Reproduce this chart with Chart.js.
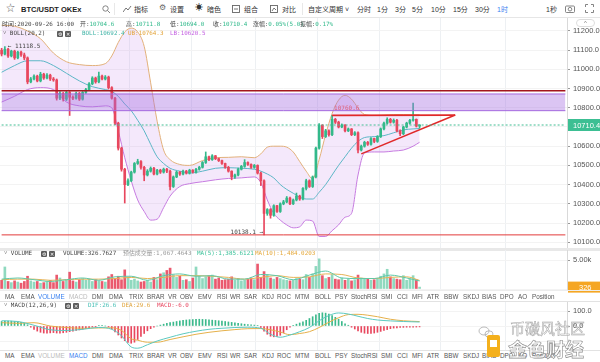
<!DOCTYPE html>
<html>
<head>
<meta charset="utf-8">
<title>BTC/USDT OKEx 1H</title>
<script src="https://cdn.jsdelivr.net/npm/chart.js@4.4.1/dist/chart.umd.min.js"></script>
<style>
  body { margin:0; width:600px; height:362px; overflow:hidden; background:#fff; position:relative;
         font-family: Arial, "Liberation Sans", "Noto Sans CJK SC", sans-serif; color:#333; }
  canvas { position:absolute; left:0; }
  .t { position:absolute; white-space:nowrap; line-height:1; }
  .mono { font-family:"DejaVu Sans Mono", "Noto Sans CJK SC", monospace; font-size:5.9px; color:#444; }
  .g { color:#2fb98a; }
  .bar { font-size:7px; color:#333; top:6px; }
  .ico { display:inline-block; width:6px; height:6px; background:#5c5c5c; color:#fff; font-size:5px;
         line-height:6px; text-align:center; border-radius:1px; vertical-align:top; margin-right:2px; }
  .tabs span { position:absolute; font-size:6.3px; color:#555; white-space:nowrap; line-height:1; }
  .line { position:absolute; left:0; width:600px; }
</style>
</head>
<body>

<!-- toolbar -->
<div class="line" style="top:17px;height:1px;background:#e6e6e6"></div>
<span class="t" style="left:6px;top:4px;font-size:9px;color:#666">☆</span>
<span class="t" style="left:21px;top:5.5px;font-size:7.5px;font-weight:bold;color:#222">BTC/USDT OKEx</span>
<svg class="t" style="left:102px;top:5px" width="9" height="9"><circle cx="3.5" cy="3.5" r="2.7" fill="none" stroke="#777" stroke-width="0.9"/><line x1="5.5" y1="5.5" x2="8" y2="8" stroke="#777" stroke-width="0.9"/></svg>
<div class="t" style="left:114px;top:3px;width:1px;height:12px;background:#e8e8e8"></div>
<svg class="t" style="left:123px;top:5px" width="9" height="8"><polyline points="0,7 3,3 5,5 8,1" fill="none" stroke="#666" stroke-width="0.9"/></svg>
<span class="t bar" style="left:134px">指标</span>
<span class="t" style="left:159px;top:4px;font-size:8px;color:#666">⚙</span>
<span class="t bar" style="left:170px">设置</span>
<span class="t" style="left:195px;top:4px;font-size:8px;color:#333">☀</span>
<span class="t bar" style="left:207px">暗色</span>
<svg class="t" style="left:232px;top:5px" width="8" height="8"><rect x="0.5" y="0.5" width="7" height="7" fill="none" stroke="#666" stroke-width="0.9"/><line x1="2" y1="4" x2="6" y2="4" stroke="#666" stroke-width="0.9"/></svg>
<span class="t bar" style="left:244px">组合</span>
<svg class="t" style="left:270px;top:5px" width="8" height="8"><rect x="0.5" y="0.5" width="7" height="7" fill="none" stroke="#666" stroke-width="0.9"/><polyline points="2,6 4,3 6,5" fill="none" stroke="#666" stroke-width="0.9"/></svg>
<span class="t bar" style="left:282px">对比</span>
<div class="t" style="left:302px;top:3px;width:1px;height:12px;background:#e8e8e8"></div>
<span class="t bar" style="left:308px">自定义周期 ˅</span>
<span class="t bar" style="left:357px">分时</span>
<span class="t bar" style="left:377px">1分</span>
<span class="t bar" style="left:395px">3分</span>
<span class="t bar" style="left:412px">5分</span>
<span class="t bar" style="left:431px">10分</span>
<span class="t bar" style="left:453px">15分</span>
<span class="t bar" style="left:475px">30分</span>
<span class="t bar" style="left:497px;color:#3b82f0">1时</span>
<span class="t bar" style="left:546px">1秒</span>
<svg class="t" style="left:565px;top:4px" width="10" height="9"><rect x="0.5" y="2" width="9" height="6.5" rx="1" fill="none" stroke="#777" stroke-width="0.9"/><circle cx="5" cy="5.2" r="1.8" fill="none" stroke="#777" stroke-width="0.9"/></svg>
<svg class="t" style="left:585px;top:4px" width="9" height="9"><path d="M0.5 3V0.5H3M6 0.5H8.5V3M8.5 6V8.5H6M3 8.5H0.5V6" fill="none" stroke="#777" stroke-width="0.9"/></svg>

<!-- charts -->
<canvas id="main" width="600" height="230" style="top:18px"></canvas>
<div class="line" style="top:248px;height:3px;background:#e8e8e8"></div>
<canvas id="vol" width="600" height="44" style="top:250px"></canvas>
<canvas id="macd" width="600" height="48" style="top:302px"></canvas>

<!-- main legends -->
<span class="t mono" style="left:2px;top:22px">时间:2020-09-26 16:00</span>
<span class="t mono" style="left:80px;top:22px">开:<span class="g">10704.6</span></span>
<span class="t mono" style="left:126px;top:22px">高:<span class="g">10711.8</span></span>
<span class="t mono" style="left:170px;top:22px">低:<span class="g">10694.0</span></span>
<span class="t mono" style="left:213px;top:22px">收:<span class="g">10710.4</span></span>
<span class="t mono" style="left:253px;top:22px">涨幅:<span class="g">0.05%(5.0)</span></span>
<span class="t mono" style="left:300px;top:22px">振幅:<span class="g">0.17%</span></span>
<span class="t mono" style="left:3px;top:31px">˅ BOLL(20,2)</span>
<span class="t" style="left:57px;top:31px"><span class="ico">⚙</span><span class="ico">✕</span></span>
<span class="t mono" style="left:82px;top:31px;color:#3fb3a6">BOLL:10692.4</span>
<span class="t mono" style="left:128px;top:31px;color:#e3a43a">UB:10764.3</span>
<span class="t mono" style="left:170px;top:31px;color:#c35fe0">LB:10620.5</span>
<div class="t" style="left:576px;top:19px;width:17px;height:6px;border:1px solid #ddd;border-radius:4px;font-size:6px;color:#777;text-align:center;line-height:7px">^</div>

<!-- volume legend -->
<span class="t mono" style="left:4px;top:251px">˅ VOLUME</span>
<span class="t" style="left:41px;top:251px"><span class="ico">⚙</span><span class="ico">✕</span></span>
<span class="t mono" style="left:63px;top:251px">VOLUME:326.7627</span>
<span class="t mono" style="left:123px;top:251px;color:#999">预估成交量:1,067.4643</span>
<span class="t mono" style="left:197px;top:251px;color:#3cc29a">MA(5):1,385.6121</span>
<span class="t mono" style="left:255px;top:251px;color:#e5a83a">MA(10):1,484.0203</span>

<!-- indicator tabs -->
<div class="line" style="top:290px;height:1px;background:#ececec"></div>
<div class="tabs" id="tabs1" style="position:absolute;left:0;top:294px"></div>
<div class="line" style="top:301px;height:1px;background:#e2e2e2"></div>

<!-- macd legend -->
<span class="t mono" style="left:4px;top:303px">˅ MACD(12,26,9)</span>
<span class="t" style="left:65px;top:303px"><span class="ico">⚙</span><span class="ico">✕</span></span>
<span class="t mono" style="left:88px;top:303px;color:#46bfb5">DIF:26.6</span>
<span class="t mono" style="left:122px;top:303px;color:#e0a43c">DEA:29.6</span>
<span class="t mono" style="left:157px;top:303px;color:#e8455e">MACD:-6.0</span>

<div class="line" style="top:350px;height:1px;background:#e2e2e2"></div>
<div class="tabs" id="tabs2" style="position:absolute;left:0;top:353px"></div>

<!-- watermark -->
<svg class="t" style="left:478px;top:326px" width="16" height="12"><ellipse cx="6" cy="5" rx="5" ry="4" fill="none" stroke="#aaa" stroke-width="0.8"/><ellipse cx="11" cy="8" rx="4" ry="3.2" fill="none" stroke="#aaa" stroke-width="0.8"/></svg>
<span class="t" style="left:510px;top:320px;font-size:15px;color:rgba(255,255,255,0.6);-webkit-text-stroke:0.5px #a0a0a0;font-family:'Noto Sans CJK SC'">币碳风社区</span>
<div class="t" style="left:487px;top:335px;width:13px;height:22px;background:#f4b01c;border-radius:2px"></div>
<div class="t" style="left:490px;top:340px;width:7px;height:7px;background:#fff"></div>
<span class="t" style="left:508px;top:339px;font-size:19px;font-weight:bold;color:rgba(255,255,255,0.8);-webkit-text-stroke:0.6px #8a8a8a;font-family:'Noto Sans CJK SC'">金色财经</span>

<script>
// hourly slots across the plot width; candles fill the first 130, the rest is empty space
const slotCount = 175;
const slots = Array.from({length: slotCount}, (_, i) => i);

const opens = [
  11100, 11080, 11105, 11070, 11095, 11060, 11090, 11075, 11060, 10935,
  10950, 10965, 10940, 10975, 10955, 10970, 10950, 10945, 10850, 10875,
  10845, 10880, 10855, 10850, 10875, 10845, 10880, 10895, 10925, 10955,
  10935, 10965, 10950, 10960, 10905, 10850, 10720, 10590, 10480, 10400,
  10420, 10465, 10510, 10520, 10490, 10450, 10470, 10485, 10455, 10475,
  10465, 10480, 10470, 10390, 10440, 10465, 10455, 10470, 10460, 10475,
  10465, 10480, 10490, 10515, 10545, 10530, 10550, 10535, 10525, 10510,
  10490, 10470, 10440, 10450, 10480, 10495, 10515, 10505, 10490, 10500,
  10460, 10420, 10250, 10270, 10240, 10290, 10260, 10300, 10310, 10330,
  10300, 10320, 10340, 10325, 10380, 10420, 10390, 10440, 10590, 10710,
  10650, 10680, 10660, 10740, 10725, 10700, 10710, 10680, 10690, 10660,
  10670, 10580, 10600, 10620, 10610, 10640, 10625, 10650, 10690, 10720,
  10740, 10725, 10735, 10680, 10665, 10700, 10720, 10735, 10740, 10704.6
];
const highs = [
  11110, 11118.5, 11110, 11100, 11100, 11095, 11095, 11085, 11065, 10958,
  10972, 10970, 10985, 10980, 10978, 10975, 10958, 10950, 10885, 10880,
  10888, 10885, 10862, 10882, 10880, 10885, 10902, 10932, 10962, 10960,
  10986, 10970, 10968, 10965, 10910, 10855, 10725, 10595, 10485, 10430,
  10470, 10515, 10532, 10525, 10495, 10478, 10492, 10490, 10480, 10480,
  10486, 10485, 10475, 10445, 10470, 10468, 10475, 10474, 10480, 10478,
  10485, 10495, 10520, 10570, 10548, 10556, 10552, 10538, 10528, 10512,
  10495, 10472, 10455, 10486, 10500, 10530, 10518, 10508, 10505, 10503,
  10465, 10425, 10275, 10275, 10295, 10292, 10305, 10318, 10338, 10335,
  10325, 10356, 10345, 10385, 10428, 10425, 10445, 10595, 10718, 10712,
  10688, 10685, 10760.6, 10745, 10730, 10716, 10712, 10695, 10692, 10676,
  10675, 10606, 10626, 10625, 10645, 10642, 10655, 10695, 10725, 10748,
  10745, 10742, 10740, 10685, 10704, 10725, 10740, 10825, 10742, 10711.8
];
const lows = [
  11070, 11075, 11062, 11065, 11052, 11055, 11068, 11050, 10925, 10930,
  10945, 10935, 10935, 10948, 10950, 10942, 10938, 10840, 10842, 10835,
  10838, 10760, 10842, 10845, 10838, 10840, 10875, 10890, 10920, 10928,
  10930, 10945, 10945, 10898, 10845, 10712, 10580, 10470, 10304, 10395,
  10415, 10460, 10505, 10480, 10420, 10445, 10465, 10450, 10450, 10458,
  10460, 10462, 10372, 10385, 10436, 10448, 10450, 10455, 10455, 10460,
  10460, 10475, 10486, 10510, 10525, 10526, 10530, 10520, 10505, 10485,
  10465, 10425, 10432, 10445, 10476, 10490, 10500, 10484, 10485, 10455,
  10395, 10138.1, 10240, 10225, 10235, 10255, 10255, 10295, 10305, 10295,
  10296, 10315, 10318, 10320, 10372, 10385, 10385, 10435, 10585, 10640,
  10645, 10652, 10655, 10718, 10695, 10696, 10675, 10676, 10655, 10655,
  10565, 10575, 10595, 10604, 10605, 10618, 10620, 10645, 10685, 10715,
  10720, 10720, 10675, 10655, 10660, 10695, 10715, 10730, 10700, 10694.0
];
const closes = [
  11080, 11105, 11070, 11095, 11060, 11090, 11075, 11060, 10935, 10950,
  10965, 10940, 10975, 10955, 10970, 10950, 10945, 10850, 10875, 10845,
  10880, 10855, 10850, 10875, 10845, 10880, 10895, 10925, 10955, 10935,
  10965, 10950, 10960, 10905, 10850, 10720, 10590, 10480, 10400, 10420,
  10465, 10510, 10520, 10490, 10450, 10470, 10485, 10455, 10475, 10465,
  10480, 10470, 10390, 10440, 10465, 10455, 10470, 10460, 10475, 10465,
  10480, 10490, 10515, 10545, 10530, 10550, 10535, 10525, 10510, 10490,
  10470, 10440, 10450, 10480, 10495, 10515, 10505, 10490, 10500, 10460,
  10420, 10250, 10270, 10240, 10290, 10260, 10300, 10310, 10330, 10300,
  10320, 10340, 10325, 10380, 10420, 10390, 10440, 10590, 10710, 10650,
  10680, 10660, 10740, 10725, 10700, 10710, 10680, 10690, 10660, 10670,
  10580, 10600, 10620, 10610, 10640, 10625, 10650, 10690, 10720, 10740,
  10725, 10735, 10680, 10665, 10700, 10720, 10735, 10740, 10704.6, 10710.4
];
const volumes = [
  1500, 3800, 1300, 1100, 1400, 1200, 1000, 1300, 2200, 1400,
  1200, 1300, 1000, 1100, 1300, 1500, 1100, 2400, 1900, 1300,
  1500, 2900, 1400, 1200, 1600, 1800, 1500, 1700, 1300, 1600,
  1400, 1300, 1200, 2100, 2500, 1800, 2200, 1600, 3300, 2000,
  1500, 1700, 1400, 1200, 1300, 1500, 1200, 2000, 1600, 2600,
  2800, 3200, 3600, 2400, 2000, 2200, 1500, 1600, 1300, 1900,
  3800, 2200, 1800, 2100, 2300, 2400, 1700, 1900, 1500, 1600,
  1700, 2100, 1500, 1800, 1400, 1500, 1700, 1900, 1600, 4300,
  2000, 3000, 2500, 1900, 1700, 2000, 1800, 1600, 1500, 1400,
  1500, 1800, 1700, 1600, 2500, 2000, 2600, 3900, 5200, 2300,
  1800, 2000, 2500, 1700, 1600, 1900, 1500, 1700, 1400, 1600,
  2400, 1900, 1700, 1800, 1500, 1600, 1700, 2200, 2600, 3400,
  2100, 1800, 1700, 1600, 2300, 1500, 1800, 2300, 1600, 326.76
];
const macdHist = [
  30, 32, 33, 32, 30, 28, 24, 18, 8,
  -8, -22, -34, -42, -47, -48, -46, -44, -47, -48, -45, -42,
  -38, -34, -30, -26, -22, -17, -12, -7, -2, 3, 4, 0, -6,
  -20, -40, -60, -80, -98, -110, -115, -108, -90, -70,
  -50, -32, -18, -8, 0, 6, 12,
  18, 22, 26, 30, 34, 37, 40, 42, 43, 44, 45, 44, 43, 41, 39, 37, 35, 32, 30, 27, 24, 21, 18, 15, 12, 10, 8, 6,
  3, -10, -35, -55, -68, -72, -70, -62, -45, -25, -8, 4, 12, 20,
  28, 38, 50, 62, 75, 85, 88, 86, 80, 70, 58, 45, 30, 15,
  5, -8, -20, -32, -42,
  -48, -50, -50, -47, -42, -36, -30, -24, -18, -14,
  -12, -10, -9, -8, -8, -7, -7, -6
];

// Bollinger band readings at sampled candles
const bollIdx = [0, 4, 8, 12, 16, 20, 24, 28, 32, 34, 36, 38, 40, 42, 44, 46, 48, 50, 52, 55,
  58, 62, 66, 70, 74, 78, 80, 82, 84, 86, 88, 90, 92, 94, 96, 98, 100, 102, 104, 106,
  108, 110, 112, 115, 118, 121, 124, 127, 129];
const bollUpper = [11230, 11225, 11200, 11160, 11085, 11040, 11025, 11020, 11030, 11070,
  11140, 11195, 11215, 11195, 11120, 10930, 10730, 10580, 10530, 10505,
  10500, 10525, 10540, 10542, 10545, 10540, 10560, 10595, 10600, 10600,
  10595, 10570, 10520, 10470, 10430, 10530, 10660, 10770, 10840, 10865,
  10845, 10800, 10765, 10760, 10762, 10765, 10765, 10764, 10764.3];
const bollMid = [10985, 11020, 11045, 11045, 11020, 10980, 10940, 10910, 10895, 10885,
  10860, 10820, 10785, 10735, 10680, 10610, 10545, 10510, 10485, 10470,
  10460, 10470, 10485, 10488, 10485, 10480, 10470, 10455, 10435, 10400,
  10375, 10355, 10335, 10325, 10325, 10360, 10400, 10450, 10500, 10545,
  10590, 10625, 10645, 10650, 10655, 10670, 10685, 10690, 10692.4];
const bollLower = [10830, 10860, 10895, 10905, 10895, 10830, 10810, 10805, 10810, 10800,
  10680, 10540, 10420, 10320, 10260, 10215, 10220, 10280, 10340, 10390,
  10405, 10415, 10425, 10432, 10435, 10440, 10410, 10320, 10250, 10215,
  10190, 10175, 10180, 10215, 10210, 10130, 10130, 10160, 10190, 10230,
  10250, 10450, 10565, 10570, 10570, 10575, 10580, 10600, 10620.5];

// volume moving averages, sampled
const volMaIdx = [0, 5, 10, 15, 20, 25, 30, 35, 40, 45, 50, 55, 60, 65, 70, 75, 80, 85, 90, 95, 100, 105, 110, 115, 120, 125, 129];
const volMa5 = [1700, 1900, 1600, 1300, 1600, 1900, 1500, 2100, 2200, 1500, 2300, 2600, 2200, 2300, 1700, 1700, 2500, 2300, 1600, 2400, 3100, 1900, 1800, 1800, 2400, 1900, 1385.6];
const volMa10 = [1600, 1700, 1700, 1500, 1600, 1700, 1700, 1800, 2000, 1800, 2000, 2300, 2300, 2200, 2000, 1700, 2000, 2300, 2000, 2100, 2600, 2500, 1900, 1800, 2000, 2100, 1484.0];

// MACD lines, sampled
const macdIdx = [0, 5, 10, 15, 20, 25, 30, 34, 37, 40, 42, 45, 48, 52, 56, 60, 64, 68, 72, 76,
  80, 83, 86, 89, 92, 95, 98, 101, 104, 107, 110, 113, 116, 120, 124, 129];
const difLine = [35, 30, 5, -25, -30, -22, -10, -22, -65, -140, -148, -125, -100, -75, -52, -35, -22, -15, -10, -8,
  -15, -55, -75, -60, -38, -10, 35, 70, 87, 80, 65, 50, 40, 34, 30, 26.6];
const deaLine = [22, 18, 22, 0, -10, -15, -13, -12, -30, -85, -95, -108, -108, -90, -72, -55, -42, -32, -24, -18,
  -17, -25, -40, -58, -50, -38, -10, 25, 55, 76, 78, 72, 62, 45, 35, 29.6];

// axis tick labels
const priceTicks = [10100, 10200, 10300, 10400, 10500, 10600, 10700, 10800, 10900, 11000, 11100, 11200];
const volTicks = [0, 5000];
const macdTicks = [-100, 0, 100];

// drawn levels and trend lines
const resistLine = 10889;
const zoneTop = 10872;
const zoneBottom = 10785;
const supportLine = 10138.1;
const triTopIdx = [102, 140];
const triTopVal = [10760.6, 10762];
const triRiseIdx = [111, 140];
const triRiseVal = [10560, 10762];

const tabNames = ['MA','EMA','VOLUME','MACD','DMI','DMA','TRIX','BRAR','VR','OBV','EMV','RSI','WR','SAR','KDJ','ROC','MTM',
  'BOLL','PSY','StochRSI','SMI','CCI','MFI','ATR','BBW','SKDJ','BIAS','DPO','AO','Position'];
const tabX = [5,21,38,69,92,109,129,147,168,180,198,217,230,244,262,277,295,315,335,351,381,397,412,427,444,463,482,500,518,532];

function fillTabs(id, active, muted) {
  const box = document.getElementById(id);
  tabNames.forEach((n, i) => {
    const s = document.createElement('span');
    s.textContent = n;
    s.style.left = tabX[i] + 'px';
    if (n === active) s.style.color = '#3b82f0';
    if (n === muted) s.style.color = '#bbb';
    box.appendChild(s);
  });
}
fillTabs('tabs1', 'VOLUME', 'MACD');
fillTabs('tabs2', 'MACD', 'VOLUME');

Chart.defaults.font.family = 'Arial, "Liberation Sans", sans-serif';
Chart.defaults.elements.line.borderWidth = 1;
Chart.defaults.elements.point.radius = 0;

const upColor = '#33b98a', downColor = '#e8475e';
const candleColors = closes.map((c, i) => c >= opens[i] ? upColor : downColor);
const volColors = closes.map((c, i) => c >= opens[i] ? 'rgba(51,185,138,0.55)' : 'rgba(232,71,94,0.9)');
const histColors = macdHist.map(v => v >= 0 ? '#3cb98c' : '#e8475e');
const gridSlots = [21, 40, 59, 79, 98, 117, 136, 156];

const pts = (idx, vals) => vals.map((v, i) => ({x: idx[i], y: v}));
const flat = v => [{x: 0, y: v}, {x: slotCount - 1, y: v}];

function xAxis() {
  return {
    type: 'category', offset: true,
    ticks: {display: false},
    grid: {offset: true, drawTicks: false, color: c => gridSlots.includes(c.index) ? '#edf0f3' : 'rgba(0,0,0,0)'},
    border: {display: false}
  };
}
function yAxis(min, max, tickList, fmt) {
  return {
    position: 'right', min: min, max: max,
    ticks: {font: {size: 7.5}, color: '#555', padding: 3, callback: fmt},
    grid: {color: '#f3f3f3', tickColor: '#999', tickLength: 3},
    border: {color: '#d9d9d9'},
    afterBuildTicks(s) { s.ticks = tickList.map(v => ({value: v})); },
    afterFit(s) { s.width = 33; s.paddingTop = 0; s.paddingBottom = 0; }
  };
}
function baseOptions(yScale, pad) {
  return {
    responsive: false, animation: false, devicePixelRatio: 1, events: [],
    layout: {padding: {left: 0, right: 0, top: 0, bottom: pad || 0}},
    plugins: {legend: {display: false}, tooltip: {enabled: false}},
    scales: {x: xAxis(), y: yScale}
  };
}

const last = closes.length - 1;
const mainMarks = {
  id: 'mainMarks',
  afterDraw(chart) {
    const {ctx, chartArea, scales: {x, y}} = chart;
    ctx.save();
    ctx.font = '6px "DejaVu Sans Mono"';
    ctx.textBaseline = 'middle';
    ctx.fillStyle = '#444';
    ctx.textAlign = 'left';
    ctx.fillText('← ' + highs[1].toFixed(1), x.getPixelForValue(1) + 3, y.getPixelForValue(highs[1]));
    ctx.textAlign = 'right';
    ctx.fillText(lows[81].toFixed(1) + ' →', x.getPixelForValue(81) - 1, y.getPixelForValue(lows[81]) - 2);
    ctx.textAlign = 'left';
    ctx.fillStyle = '#e0607a';
    ctx.fillText(highs[102].toFixed(1), x.getPixelForValue(102) + 2, y.getPixelForValue(highs[102]) - 7);
    // last price tag on the axis
    const py = y.getPixelForValue(closes[last]);
    ctx.fillStyle = '#3cbf93';
    ctx.fillRect(chartArea.right + 1, py - 6, chart.width - chartArea.right - 1, 12);
    ctx.fillStyle = '#fff';
    ctx.font = '7.5px Arial';
    ctx.fillText(closes[last].toFixed(1), chartArea.right + 6, py + 0.5);
    ctx.restore();
  }
};

const bollFill = 'rgba(200,140,235,0.2)';
const zoneFill = 'rgba(165,110,225,0.4)';
new Chart(document.getElementById('main'), {
  type: 'bar',
  data: {
    labels: slots,
    datasets: [
      {data: opens.map((o, i) => [o, closes[i]]), backgroundColor: candleColors, barThickness: 2, grouped: false, minBarLength: 1, order: 2},
      {data: lows.map((l, i) => [l, highs[i]]), backgroundColor: candleColors, barThickness: 1, grouped: false, order: 3},
      {type: 'line', data: pts(bollIdx, bollUpper), borderColor: '#e2b07a', cubicInterpolationMode: 'monotone',
        fill: {target: 4, above: bollFill, below: bollFill}, order: 10},
      {type: 'line', data: pts(bollIdx, bollMid), borderColor: '#5cb6c6', cubicInterpolationMode: 'monotone', order: 9},
      {type: 'line', data: pts(bollIdx, bollLower), borderColor: '#c67be0', cubicInterpolationMode: 'monotone', order: 8},
      {type: 'line', data: flat(zoneTop), borderColor: '#a466de', fill: {target: 6, above: zoneFill, below: zoneFill}, order: 1},
      {type: 'line', data: flat(zoneBottom), borderColor: '#a466de', order: 1},
      {type: 'line', data: flat(resistLine), borderColor: '#a3161c', borderWidth: 1.5, order: 0},
      {type: 'line', data: flat(supportLine), borderColor: '#e23b3b', order: 0},
      {type: 'line', data: flat(closes[last]), borderColor: '#41bd92', borderDash: [2, 2], order: 0},
      {type: 'line', data: pts(triTopIdx, triTopVal), borderColor: '#e02a2a', borderWidth: 1.6, order: 0},
      {type: 'line', data: pts(triRiseIdx, triRiseVal), borderColor: '#e02a2a', borderWidth: 1.6, order: 0}
    ]
  },
  options: baseOptions(yAxis(10069.8, 11267.7, priceTicks, v => v.toFixed(1))),
  plugins: [mainMarks]
});

const volBox = {
  id: 'volBox',
  afterDraw(chart) {
    const {ctx, chartArea, scales: {y}} = chart;
    const py = y.getPixelForValue(volumes[last]);
    ctx.save();
    ctx.fillStyle = '#f5a623';
    ctx.fillRect(chartArea.right + 1, py - 5.5, chart.width - chartArea.right - 1, 11);
    ctx.fillStyle = '#fff';
    ctx.font = '7.5px Arial';
    ctx.textBaseline = 'middle';
    ctx.fillText(Math.floor(volumes[last]).toString(), chartArea.right + 12, py + 0.5);
    ctx.restore();
  }
};
new Chart(document.getElementById('vol'), {
  type: 'bar',
  data: {
    labels: slots,
    datasets: [
      {data: volumes, backgroundColor: volColors, barThickness: 2, order: 2},
      {type: 'line', data: pts(volMaIdx, volMa5), borderColor: '#5fc8a8', cubicInterpolationMode: 'monotone', order: 1},
      {type: 'line', data: pts(volMaIdx, volMa10), borderColor: '#e6b255', cubicInterpolationMode: 'monotone', order: 1}
    ]
  },
  options: baseOptions(yAxis(-172, 6724, volTicks, v => v === 5000 ? '5.00k' : ''), 4),
  plugins: [volBox]
});

new Chart(document.getElementById('macd'), {
  type: 'bar',
  data: {
    labels: slots,
    datasets: [
      {data: macdHist, backgroundColor: histColors, barThickness: 1, order: 2},
      {type: 'line', data: pts(macdIdx, difLine), borderColor: '#5cc9c0', cubicInterpolationMode: 'monotone', order: 1},
      {type: 'line', data: pts(macdIdx, deaLine), borderColor: '#e5b04a', cubicInterpolationMode: 'monotone', order: 1}
    ]
  },
  options: baseOptions(yAxis(-160, 160, macdTicks, v => v >= 0 ? v.toFixed(1) : ''))
});
</script>
</body>
</html>
